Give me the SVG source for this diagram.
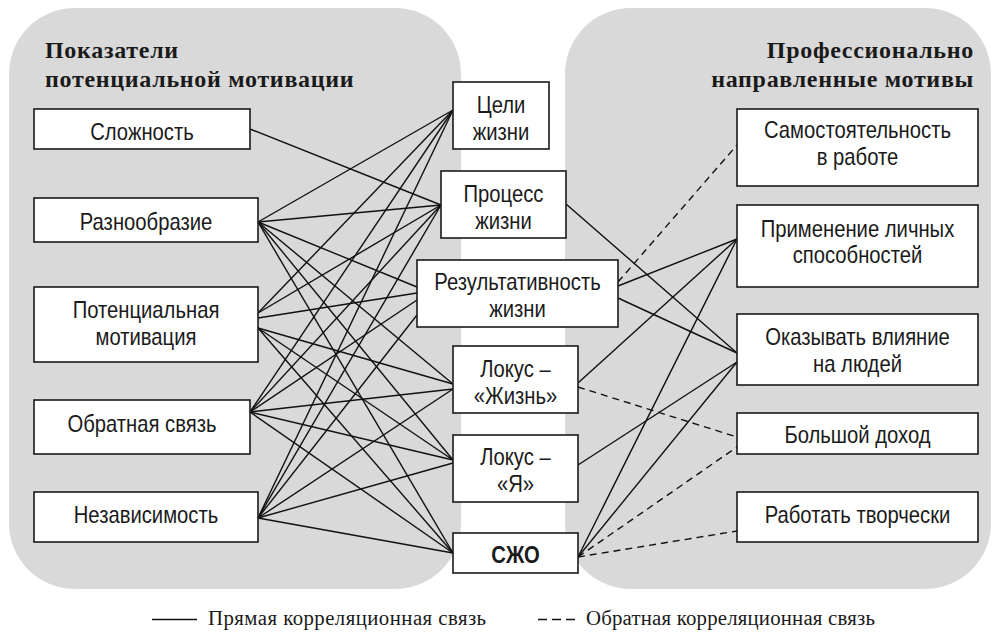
<svg xmlns="http://www.w3.org/2000/svg" width="995" height="632" viewBox="0 0 995 632">
<style>
.panel{fill:#d9d9d9;stroke:none}
.box{fill:#fff;stroke:#1a1a1a;stroke-width:1.6}
.t{font-family:"Liberation Sans",Arial,sans-serif;font-size:23px;fill:#1a1a1a;text-anchor:middle}
.tb{font-weight:bold}
.title{font-family:"Liberation Serif","Times New Roman",serif;font-size:24px;font-weight:bold;fill:#1a1a1a;letter-spacing:0.7px}
.leg{font-family:"Liberation Serif","Times New Roman",serif;font-size:20.8px;fill:#1a1a1a;letter-spacing:0.45px}
.c line{stroke:#111;stroke-width:1.4;fill:none}
.c line.d{stroke-dasharray:7 5}
</style>
<rect class="panel" x="9" y="8" width="452" height="581" rx="66" ry="66"/>
<rect class="panel" x="565" y="8" width="426" height="581" rx="66" ry="66"/>
<text class="title" x="45" y="58">Показатели</text>
<text class="title" x="45" y="87">потенциальной мотивации</text>
<text class="title" x="974" y="58" text-anchor="end">Профессионально</text>
<text class="title" x="974" y="87" text-anchor="end">направленные мотивы</text>
<g id="connectors" class="c">
<line x1="250" y1="129" x2="441" y2="205"/>
<line x1="258" y1="222" x2="453" y2="110"/>
<line x1="258" y1="222" x2="441" y2="205"/>
<line x1="258" y1="222" x2="417" y2="287"/>
<line x1="258" y1="222" x2="453" y2="384"/>
<line x1="258" y1="222" x2="453" y2="460"/>
<line x1="258" y1="222" x2="453" y2="553"/>
<line x1="258" y1="313" x2="453" y2="110"/>
<line x1="258" y1="313" x2="441" y2="205"/>
<line x1="258" y1="318" x2="417" y2="293"/>
<line x1="258" y1="328" x2="453" y2="384"/>
<line x1="258" y1="328" x2="453" y2="460"/>
<line x1="258" y1="328" x2="453" y2="553"/>
<line x1="250" y1="412" x2="453" y2="110"/>
<line x1="250" y1="412" x2="441" y2="205"/>
<line x1="250" y1="412" x2="417" y2="300"/>
<line x1="250" y1="412" x2="453" y2="389"/>
<line x1="250" y1="412" x2="453" y2="460"/>
<line x1="250" y1="412" x2="453" y2="553"/>
<line x1="258" y1="518" x2="453" y2="110"/>
<line x1="258" y1="518" x2="441" y2="205"/>
<line x1="258" y1="518" x2="417" y2="315"/>
<line x1="258" y1="518" x2="453" y2="389"/>
<line x1="258" y1="518" x2="453" y2="463"/>
<line x1="258" y1="518" x2="453" y2="553"/>
<line x1="566" y1="204" x2="737" y2="353"/>
<line x1="618" y1="286" x2="737" y2="239"/>
<line x1="618" y1="298" x2="737" y2="353"/>
<line x1="578" y1="383" x2="737" y2="239"/>
<line x1="578" y1="465" x2="737" y2="362"/>
<line x1="578" y1="557" x2="737" y2="239"/>
<line x1="578" y1="557" x2="737" y2="362"/>
<line class="d" x1="618" y1="282" x2="737" y2="145"/>
<line class="d" x1="578" y1="387" x2="737" y2="437"/>
<line class="d" x1="578" y1="557" x2="737" y2="447"/>
<line class="d" x1="578" y1="557" x2="737" y2="531"/>
</g>
<g id="n-slozhnost"><rect class="box" x="34" y="109" width="216" height="40"/><text class="t" transform="translate(142,139.5) scale(0.88,1)">Сложность</text></g>
<g id="n-raznoobrazie"><rect class="box" x="34" y="198" width="224" height="44"/><text class="t" transform="translate(146,229.5) scale(0.88,1)">Разнообразие</text></g>
<g id="n-potmot"><rect class="box" x="34" y="287" width="224" height="75"/><text class="t" transform="translate(146,0) scale(0.88,1)"><tspan x="0" y="318">Потенциальная</tspan><tspan x="0" y="345">мотивация</tspan></text></g>
<g id="n-obratnaya"><rect class="box" x="34" y="400" width="216" height="54"/><text class="t" transform="translate(142,431.5) scale(0.88,1)">Обратная связь</text></g>
<g id="n-nezavisimost"><rect class="box" x="34" y="492" width="224" height="50"/><text class="t" transform="translate(146,522.7) scale(0.88,1)">Независимость</text></g>
<g id="n-celi"><rect class="box" x="453" y="82" width="96" height="67"/><text class="t" transform="translate(501,0) scale(0.88,1)"><tspan x="0" y="113.5">Цели</tspan><tspan x="0" y="140">жизни</tspan></text></g>
<g id="n-process"><rect class="box" x="441" y="171" width="125" height="67"/><text class="t" transform="translate(503.5,0) scale(0.88,1)"><tspan x="0" y="202">Процесс</tspan><tspan x="0" y="229">жизни</tspan></text></g>
<g id="n-result"><rect class="box" x="417" y="260" width="201" height="67"/><text class="t" transform="translate(517.5,0) scale(0.88,1)"><tspan x="0" y="290.5">Результативность</tspan><tspan x="0" y="317">жизни</tspan></text></g>
<g id="n-lokus-zh"><rect class="box" x="453" y="346" width="125" height="67"/><text class="t" transform="translate(515.5,0) scale(0.88,1)"><tspan x="0" y="377">Локус –</tspan><tspan x="0" y="404">«Жизнь»</tspan></text></g>
<g id="n-lokus-ya"><rect class="box" x="453" y="435" width="125" height="67"/><text class="t" transform="translate(515.5,0) scale(0.88,1)"><tspan x="0" y="465">Локус –</tspan><tspan x="0" y="492">«Я»</tspan></text></g>
<g id="n-szho"><rect class="box" x="453" y="533" width="125" height="40"/><text class="t tb" transform="translate(515.5,563) scale(0.88,1)">СЖО</text></g>
<g id="n-samost"><rect class="box" x="737" y="109" width="241" height="77"/><text class="t" transform="translate(857.5,0) scale(0.88,1)"><tspan x="0" y="138.5">Самостоятельность</tspan><tspan x="0" y="165">в работе</tspan></text></g>
<g id="n-primenenie"><rect class="box" x="737" y="205" width="241" height="82"/><text class="t" transform="translate(857.5,0) scale(0.88,1)"><tspan x="0" y="237">Применение личных</tspan><tspan x="0" y="263.5">способностей</tspan></text></g>
<g id="n-okazyvat"><rect class="box" x="737" y="314" width="241" height="71"/><text class="t" transform="translate(857.5,0) scale(0.88,1)"><tspan x="0" y="345">Оказывать влияние</tspan><tspan x="0" y="372">на людей</tspan></text></g>
<g id="n-dohod"><rect class="box" x="737" y="413" width="241" height="41"/><text class="t" transform="translate(857.5,443) scale(0.88,1)">Большой доход</text></g>
<g id="n-tvorch"><rect class="box" x="737" y="492" width="241" height="50"/><text class="t" transform="translate(857.5,522.7) scale(0.88,1)">Работать творчески</text></g>
<g id="legend">
<line x1="152" y1="619.5" x2="197" y2="619.5" stroke="#111" stroke-width="1.3"/>
<text class="leg" x="208" y="625">Прямая корреляционная связь</text>
<line x1="538" y1="619.5" x2="575" y2="619.5" stroke="#111" stroke-width="1.3" stroke-dasharray="9 5"/>
<text class="leg" x="586" y="625" style="letter-spacing:0.2px">Обратная корреляционная связь</text>
</g>
</svg>
